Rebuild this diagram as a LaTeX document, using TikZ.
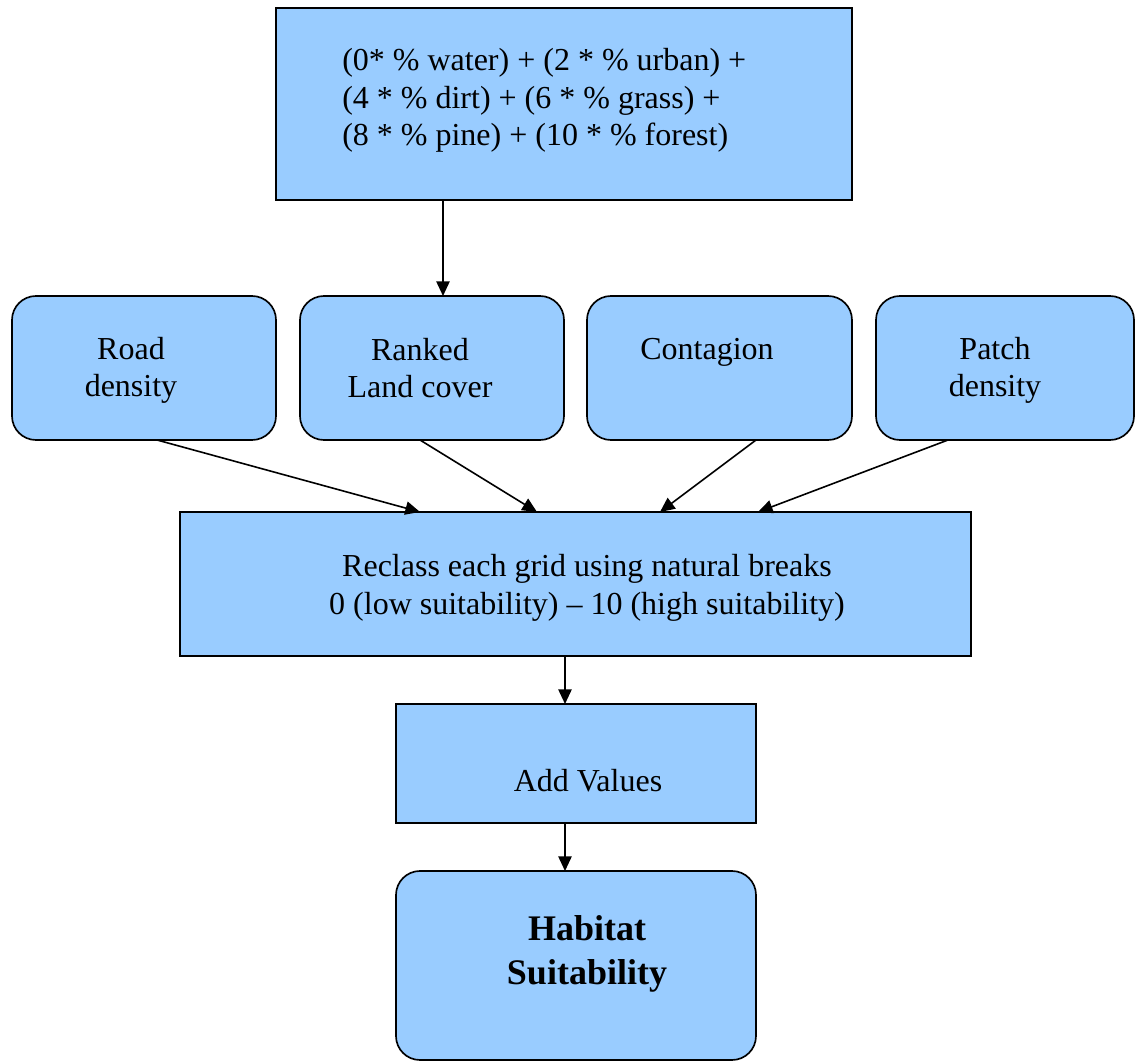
\documentclass[tikz,border=0pt]{standalone}
\usepackage{fontspec}
\setmainfont{Liberation Serif}
\usetikzlibrary{arrows.meta}
\definecolor{boxblue}{HTML}{99CCFF}
\begin{document}
\begin{tikzpicture}[x=0.75pt,y=-0.75pt,
  sqbox/.style={draw=black,fill=boxblue,line width=1.25pt,inner sep=0pt,outer sep=0pt},
  rbox/.style={sqbox,rounded corners=18pt},
  txt/.style={inner sep=0pt,align=center,font=\fontsize{24}{28}\selectfont},
  bigtxt/.style={inner sep=0pt,align=center,font=\fontsize{27}{33}\selectfont\bfseries},
  arr/.style={draw=black,line width=1.2pt,-{Triangle[length=11pt,width=10pt]}}]
\useasboundingbox (0,0) rectangle (1135,1062);
% boxes
\node[sqbox,minimum width=432pt,minimum height=144pt] (top) at (564,104) {};
\node[rbox,minimum width=198pt,minimum height=108pt] (road) at (144,368) {};
\node[rbox,minimum width=198pt,minimum height=108pt] (ranked) at (432,368) {};
\node[rbox,minimum width=198.75pt,minimum height=108pt] (cont) at (719.5,368) {};
\node[rbox,minimum width=193.5pt,minimum height=108pt] (patch) at (1005,368) {};
\node[sqbox,minimum width=593.25pt,minimum height=108pt] (reclass) at (575.5,584) {};
\node[sqbox,minimum width=270pt,minimum height=89.25pt] (add) at (576,763.5) {};
\node[rbox,minimum width=270pt,minimum height=141.75pt] (hab) at (576,965.5) {};
% texts
\node[txt,align=left,anchor=west] (toptxt) at (342,100.5) {(0* \% water) + (2 * \% urban) +\\(4 * \% dirt) + (6 * \% grass) +\\(8 * \% pine) + (10 * \% forest)};
\node[txt] (roadtxt) at (131,370.5) {Road\\density};
\node[txt] (rankedtxt) at (420,368) {Ranked\\Land cover};
\node[txt] (conttxt) at (707,352) {Contagion};
\node[txt] (patchtxt) at (995,370.5) {Patch\\density};
\node[txt] (reclasstxt) at (587,588) {Reclass each grid using natural breaks\\0 (low suitability) -- 10 (high suitability)};
\node[txt] (addtxt) at (588,781) {Add Values};
\node[bigtxt] (habtxt) at (587,954) {Habitat\\Suitability};
% connectors
\draw[arr] ([xshift=-121*0.75pt]top.south) -- ([xshift=11*0.75pt]ranked.north);
\draw[arr] ([xshift=13*0.75pt]road.south) -- ([xshift=-155.5*0.75pt]reclass.north);
\draw[arr] ([xshift=-12*0.75pt]ranked.south) -- ([xshift=-38.5*0.75pt]reclass.north);
\draw[arr] ([xshift=36.5*0.75pt]cont.south) -- ([xshift=84.5*0.75pt]reclass.north);
\draw[arr] ([xshift=-57*0.75pt]patch.south) -- ([xshift=182.5*0.75pt]reclass.north);
\draw[arr] ([xshift=-10.5*0.75pt]reclass.south) -- ([xshift=-11*0.75pt]add.north);
\draw[arr] ([xshift=-11*0.75pt]add.south) -- ([xshift=-11*0.75pt]hab.north);
\end{tikzpicture}
\end{document}
